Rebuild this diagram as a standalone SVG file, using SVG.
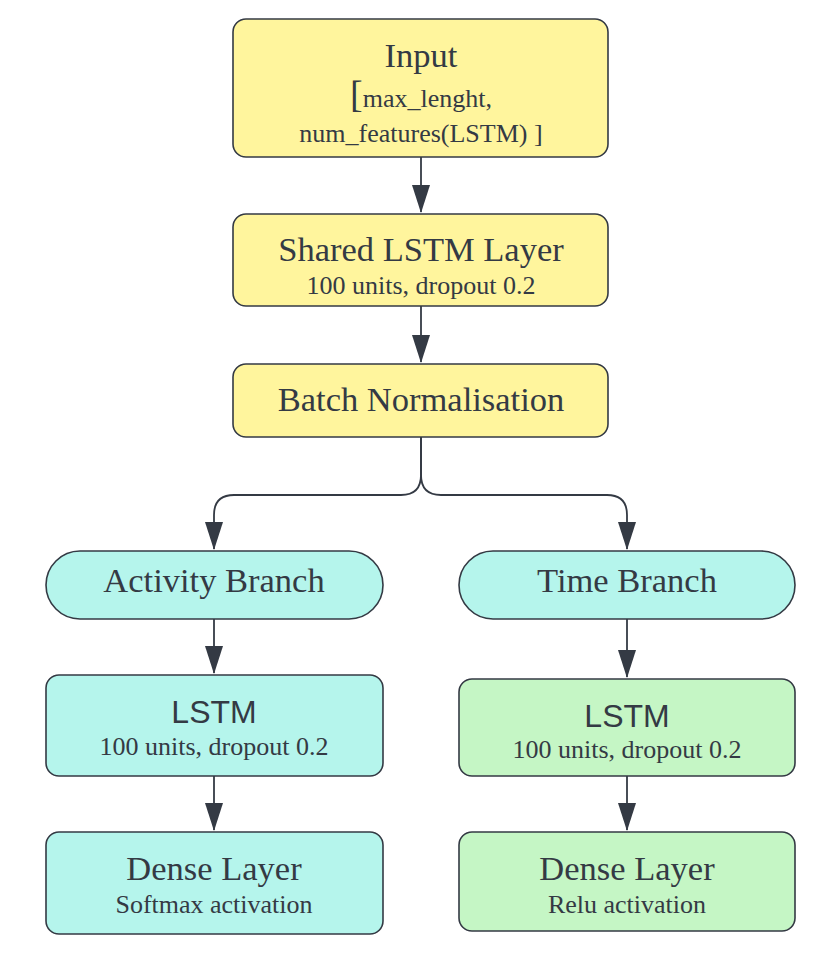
<svg xmlns="http://www.w3.org/2000/svg" width="823" height="974" viewBox="0 0 823 974">
<defs>
<style>
.n rect{stroke:#343a44;stroke-width:1.6}
.y{fill:#fff59d}
.c{fill:#b5f5ec}
.g{fill:#c5f6c5}
.t{font-family:"Liberation Serif",serif;font-size:34.5px;fill:#343a44;text-anchor:middle}
.s{font-family:"Liberation Serif",serif;font-size:26px;fill:#343a44;text-anchor:middle}
.ss{font-family:"Liberation Sans",Arial,sans-serif;font-size:32px;fill:#343a44;text-anchor:middle}
.e{fill:none;stroke:#343a44;stroke-width:1.8}
</style>
<marker id="a" markerWidth="28" markerHeight="18" refX="27" refY="9" orient="auto" markerUnits="userSpaceOnUse" viewBox="0 0 28 18">
<path d="M0,0 L28,9 L0,18 Z" fill="#343a44"/>
</marker>
</defs>
<rect width="823" height="974" fill="#ffffff"/>
<g id="connectors">
<path class="e" d="M421,157 L421,212" marker-end="url(#a)"/>
<path class="e" d="M421,306 L421,362" marker-end="url(#a)"/>
<path class="e" d="M421,437 L421,475 Q421,495 401,495 L234,495 Q214,495 214,515 L214,549" marker-end="url(#a)"/>
<path class="e" d="M421,437 L421,475 Q421,495 441,495 L607,495 Q627,495 627,515 L627,549" marker-end="url(#a)"/>
<path class="e" d="M214,619 L214,673" marker-end="url(#a)"/>
<path class="e" d="M627,619 L627,677" marker-end="url(#a)"/>
<path class="e" d="M214,776 L214,830" marker-end="url(#a)"/>
<path class="e" d="M627,776 L627,830" marker-end="url(#a)"/>
</g>
<g id="input" class="n">
<rect class="y" x="233" y="19" width="375" height="138" rx="13"/>
<text class="t" x="421" y="67">Input</text>
<text class="s" x="421" y="107"><tspan font-size="38">[</tspan>max_lenght,</text>
<text class="s" x="421" y="142">num_features(LSTM) ]</text>
</g>
<g id="shared" class="n">
<rect class="y" x="233" y="214" width="375" height="92" rx="13"/>
<text class="t" x="421" y="261">Shared LSTM Layer</text>
<text class="s" x="421" y="294">100 units, dropout 0.2</text>
</g>
<g id="batchnorm" class="n">
<rect class="y" x="233" y="364" width="375" height="73" rx="13"/>
<text class="t" x="421" y="411">Batch Normalisation</text>
</g>
<g id="activity" class="n">
<rect class="c" x="46" y="551" width="337" height="68" rx="34"/>
<text class="t" x="214" y="592">Activity Branch</text>
</g>
<g id="time" class="n">
<rect class="c" x="459" y="551" width="336" height="68" rx="34"/>
<text class="t" x="627" y="592">Time Branch</text>
</g>
<g id="lstm_a" class="n">
<rect class="c" x="46" y="675" width="337" height="101" rx="13"/>
<text class="ss" x="214" y="723">LSTM</text>
<text class="s" x="214" y="755">100 units, dropout 0.2</text>
</g>
<g id="lstm_t" class="n">
<rect class="g" x="459" y="679" width="336" height="97" rx="13"/>
<text class="ss" x="627" y="727">LSTM</text>
<text class="s" x="627" y="758">100 units, dropout 0.2</text>
</g>
<g id="dense_a" class="n">
<rect class="c" x="46" y="832" width="337" height="102" rx="13"/>
<text class="t" x="214" y="880">Dense Layer</text>
<text class="s" x="214" y="913">Softmax activation</text>
</g>
<g id="dense_t" class="n">
<rect class="g" x="459" y="832" width="336" height="99" rx="13"/>
<text class="t" x="627" y="880">Dense Layer</text>
<text class="s" x="627" y="913">Relu activation</text>
</g>
</svg>
